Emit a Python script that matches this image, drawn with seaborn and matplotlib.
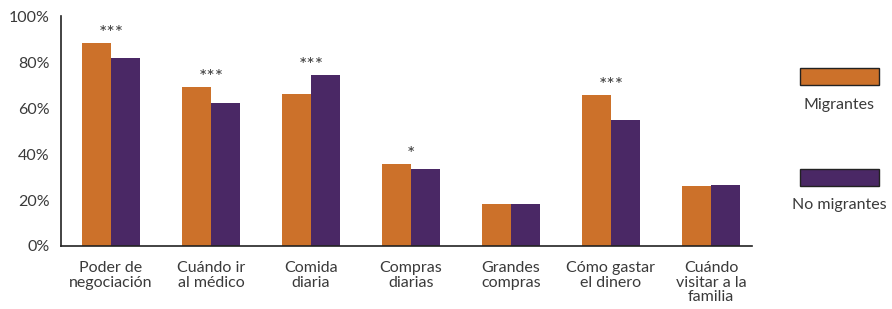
import pandas as pd
import numpy as np
import matplotlib
matplotlib.use("Agg")
import matplotlib.pyplot as plt
import seaborn as sns
from matplotlib.patches import Rectangle

# datos
categorias = ["Poder de\nnegociación", "Cuándo ir\nal médico", "Comida\ndiaria",
              "Compras\ndiarias", "Grandes\ncompras", "Cómo gastar\nel dinero",
              "Cuándo\nvisitar a la\nfamilia"]
migrantes = [88.3, 69.1, 66.1, 35.7, 18.3, 65.7, 26.1]
no_migrantes = [81.7, 62.2, 74.3, 33.5, 18.3, 54.8, 26.5]
significancia = ["***", "***", "***", "*", "", "***", ""]
grupos = ["Migrantes", "No migrantes"]
colores = ["#CC712A", "#4A2865"]
texto = "#3a3a3a"

df = pd.DataFrame({
    "categoria": categorias * 2,
    "valor": migrantes + no_migrantes,
    "grupo": [grupos[0]] * len(categorias) + [grupos[1]] * len(categorias),
})

sns.set_style("white")
plt.rcParams["font.family"] = ["Lato", "DejaVu Sans"]

fig = plt.figure(figsize=(8.92, 3.09), dpi=100)
ax = fig.add_axes([0.0684, 0.2039, 0.843 - 0.0684, 0.948 - 0.2039])

sns.barplot(data=df, x="categoria", y="valor", hue="grupo", palette=colores,
            width=0.58, gap=0, saturation=1, legend=False, linewidth=0, ax=ax)

ax.set_ylim(0, 100)
ax.set_xlim(-0.5, 6.41)
ax.set_xlabel("")
ax.set_ylabel("")
ax.set_yticks(np.arange(0, 101, 20))
ax.set_yticklabels([f"{v}%" for v in range(0, 101, 20)], fontsize=11.5, color=texto)
ax.set_xticks(range(len(categorias)))
ax.set_xticklabels(categorias, fontsize=11.5, color=texto, linespacing=1.05)
ax.tick_params(axis="x", which="major", length=0, pad=11)
ax.set_xticks(list(np.arange(0.5, 6, 1.0)) + [6.41], minor=True)
ax.tick_params(axis="x", which="minor", length=7, width=1.2, color="#222222", direction="out")
ax.tick_params(axis="y", length=6, width=1.2, color="#222222", direction="out", pad=2)

for s in ["top", "right"]:
    ax.spines[s].set_visible(False)
for s in ["left", "bottom"]:
    ax.spines[s].set_linewidth(1.2)
    ax.spines[s].set_color("#222222")

# asteriscos de significancia
for i, marca in enumerate(significancia):
    if marca:
        tope = max(migrantes[i], no_migrantes[i])
        ax.annotate(marca, xy=(i, tope), xytext=(0, 7), textcoords="offset points",
                    ha="center", va="center", fontsize=14, color=texto)

# leyenda manual
for k, (nombre, col) in enumerate(zip(grupos, colores)):
    y0 = [0.725, 0.398][k]
    fig.add_artist(Rectangle((0.897, y0), 0.0886, 0.055, transform=fig.transFigure,
                             facecolor=col, edgecolor="#222222", linewidth=1.0))
    fig.text(0.941, [0.660, 0.337][k], nombre, ha="center", va="center",
             fontsize=11.5, color=texto)

fig.savefig("out.png", dpi=100)
